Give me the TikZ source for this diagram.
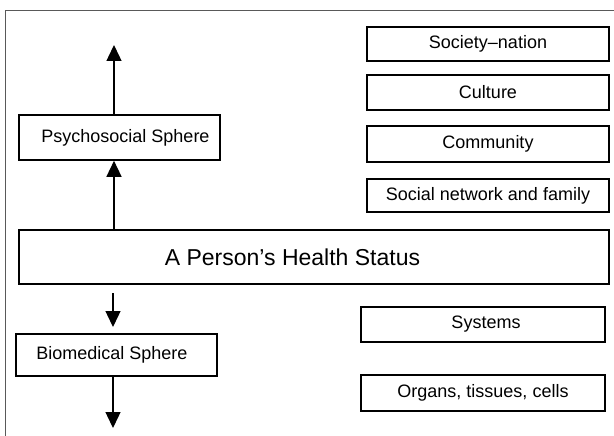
\documentclass[tikz,border=0pt]{standalone}
\usepackage{fontspec}
\setmainfont{Liberation Sans}
\usetikzlibrary{arrows.meta}
\begin{document}
\begin{tikzpicture}[x=1pt,y=-1pt,
  box/.style={draw=black,line width=1.6pt,inner sep=0pt,font=\fontsize{18}{20}\selectfont},
  arr/.style={line width=1.4pt,-{Triangle[length=16pt,width=15pt]}},
  frame/.style={draw=black!65,line width=1pt}]
\useasboundingbox (0,0) rectangle (614,436);
\draw[frame] (5.5,436) -- (5.5,11) -- (614,11);
\node[box,minimum width=242pt,minimum height=34pt] (soc) at (488,44) {Society--nation};
\node[box,minimum width=242pt,minimum height=35pt] (cul) at (488,92.5) {Culture};
\node[box,minimum width=242pt,minimum height=36pt] (com) at (488,144) {Community};
\node[box,minimum width=242pt,minimum height=33pt] (fam) at (488,195.5) {Social network and family};
\node[box,minimum width=201pt,minimum height=45pt] (psy) at (119.5,137.5) {\hspace*{12pt}Psychosocial Sphere};
\node[box,minimum width=590pt,minimum height=54pt,font=\fontsize{23}{26}\selectfont] (hea) at (314,257) {A Person’s Health Status\hspace*{43pt}};
\node[box,minimum width=201pt,minimum height=42pt] (bio) at (116.5,355) {Biomedical Sphere\hspace*{9pt}};
\node[box,minimum width=244pt,minimum height=35pt] (sys) at (483,324.5) {\hspace*{6pt}Systems};
\node[box,minimum width=244pt,minimum height=36pt] (org) at (483,393) {Organs, tissues, cells};
\coordinate (ptop) at (114,45);
\coordinate (bstart) at (113,293);
\coordinate (bend) at (113,327);
\coordinate (bbot) at (113,428);
\draw[arr] (psy.north -| ptop) -- (ptop);
\draw[arr] (hea.north -| ptop) -- (psy.south -| ptop);
\draw[arr] (bstart) -- (bend);
\draw[arr] (bio.south -| bbot) -- (bbot);
\end{tikzpicture}
\end{document}
